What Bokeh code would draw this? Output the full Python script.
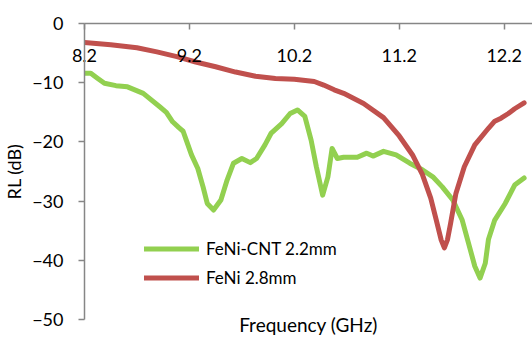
from bokeh.plotting import figure
from bokeh.models import ColumnDataSource, Range1d, LinearAxis, FixedTicker, Legend, LegendItem
from bokeh.embed import file_html
from bokeh.resources import INLINE

# ---- data ----
cnt_freq = [8.20, 8.26, 8.32, 8.39, 8.50, 8.61, 8.76, 8.92, 8.98, 9.04, 9.10, 9.14, 9.17, 9.22,
            9.28, 9.33, 9.37, 9.43, 9.50, 9.56, 9.62, 9.70, 9.78, 9.84, 9.92, 9.98, 10.08,
            10.16, 10.23, 10.30, 10.36, 10.41, 10.47, 10.52, 10.56, 10.61, 10.67, 10.80, 10.89,
            10.95, 11.05, 11.17, 11.30, 11.42, 11.52, 11.61, 11.71, 11.80, 11.86, 11.92, 11.97,
            12.02, 12.05, 12.11, 12.21, 12.30, 12.39]
cnt_rl = [-8.4, -8.4, -9.2, -10.1, -10.5, -10.7, -11.8, -14.1, -15.0, -16.6, -17.6, -18.2, -19.7,
          -22.2, -24.5, -27.6, -30.4, -31.5, -29.8, -26.4, -23.6, -22.8, -23.5, -22.8, -20.5,
          -18.5, -16.9, -15.2, -14.6, -15.7, -19.7, -24.2, -29.0, -25.9, -21.1, -22.8, -22.6,
          -22.6, -21.9, -22.4, -21.6, -22.2, -23.6, -24.7, -25.9, -27.6, -29.8, -33.2, -37.1,
          -41.0, -43.0, -40.5, -36.5, -33.2, -30.4, -27.3, -26.1]

feni_freq = [8.20, 8.45, 8.70, 8.89, 9.08, 9.26, 9.45, 9.64, 9.83, 10.02, 10.20, 10.39, 10.48,
             10.58, 10.67, 10.86, 11.05, 11.20, 11.33, 11.42, 11.50, 11.55, 11.60, 11.63, 11.66,
             11.69, 11.74, 11.82, 11.92, 12.05, 12.11, 12.17, 12.24, 12.30, 12.39]
feni_rl = [-3.2, -3.6, -4.1, -4.8, -5.6, -6.5, -7.3, -8.2, -8.9, -9.3, -9.4, -9.8, -10.4, -11.2,
           -11.8, -13.5, -15.9, -19.0, -22.3, -25.5, -29.5, -33.0, -36.6, -37.9, -36.5, -33.7,
           -28.7, -24.2, -20.5, -17.7, -16.5, -16.0, -15.2, -14.4, -13.4]

x_ticks = [8.2, 9.2, 10.2, 11.2, 12.2]
y_ticks = [0, -10, -20, -30, -40, -50]
series_names = ["FeNi-CNT 2.2mm", "FeNi 2.8mm"]
x_title = "Frequency (GHz)"
y_title = "RL (dB)"

GREEN = "#92D050"
RED = "#C0504D"
AXIS = "#868686"
FONT = "Lato"
FS = "18px"

p = figure(width=532, height=338, output_backend="svg", toolbar_location=None,
           x_range=Range1d(8.2, 12.47), y_range=Range1d(-50, 0),
           x_axis_location=None, y_axis_location=None,
           min_border_left=77, min_border_right=0, min_border_top=23, min_border_bottom=19)
p.outline_line_color = None
p.grid.visible = False
p.background_fill_color = "white"

# top axis with labels drawn just below the axis line
xa = LinearAxis(ticker=FixedTicker(ticks=x_ticks))
xa.major_tick_in = 6
xa.major_tick_out = 0
xa.minor_tick_line_color = None
xa.axis_line_color = AXIS
xa.axis_line_width = 1.5
xa.major_tick_line_color = AXIS
xa.major_tick_line_width = 1.5
xa.major_label_standoff = -38
xa.major_label_text_font = FONT
xa.major_label_text_font_size = FS
xa.major_label_text_color = "black"
p.add_layout(xa, "above")

# bottom axis only carries the title
xb = LinearAxis(ticker=FixedTicker(ticks=[]))
xb.axis_line_color = None
xb.major_tick_line_color = None
xb.minor_tick_line_color = None
xb.major_tick_in = 0
xb.major_tick_out = 0
xb.major_label_standoff = 0
xb.axis_label = x_title
xb.axis_label_standoff = -7
xb.axis_label_text_font = FONT
xb.axis_label_text_font_size = "19px"
xb.axis_label_text_font_style = "normal"
xb.axis_label_text_color = "black"
p.add_layout(xb, "below")

ya = LinearAxis(ticker=FixedTicker(ticks=y_ticks))
ya.major_tick_in = 0
ya.major_tick_out = 6
ya.minor_tick_line_color = None
ya.axis_line_color = AXIS
ya.axis_line_width = 1.5
ya.major_tick_line_color = AXIS
ya.major_tick_line_width = 1.5
ya.major_label_standoff = 15
ya.major_label_text_font = FONT
ya.major_label_text_font_size = FS
ya.major_label_text_color = "black"
ya.axis_label = y_title
ya.axis_label_standoff = 4
ya.axis_label_text_font = FONT
ya.axis_label_text_font_size = FS
ya.axis_label_text_font_style = "normal"
ya.axis_label_text_color = "black"
p.add_layout(ya, "left")

src_cnt = ColumnDataSource(dict(x=cnt_freq, y=cnt_rl))
src_feni = ColumnDataSource(dict(x=feni_freq, y=feni_rl))
r1 = p.line("x", "y", source=src_cnt, line_color=GREEN, line_width=5,
            line_join="round", line_cap="round")
r2 = p.line("x", "y", source=src_feni, line_color=RED, line_width=5,
            line_join="round", line_cap="round")

legend = Legend(items=[LegendItem(label=series_names[0], renderers=[r1]),
                       LegendItem(label=series_names[1], renderers=[r2])],
                location=(60, 27), orientation="vertical",
                glyph_width=55, glyph_height=29, label_height=29, spacing=0,
                label_standoff=7, padding=0, margin=0,
                border_line_color=None, background_fill_alpha=0,
                label_text_font=FONT, label_text_font_size="17px", label_text_color="black")
p.add_layout(legend, "center")

open("out.html", "w").write(file_html(p, INLINE))
